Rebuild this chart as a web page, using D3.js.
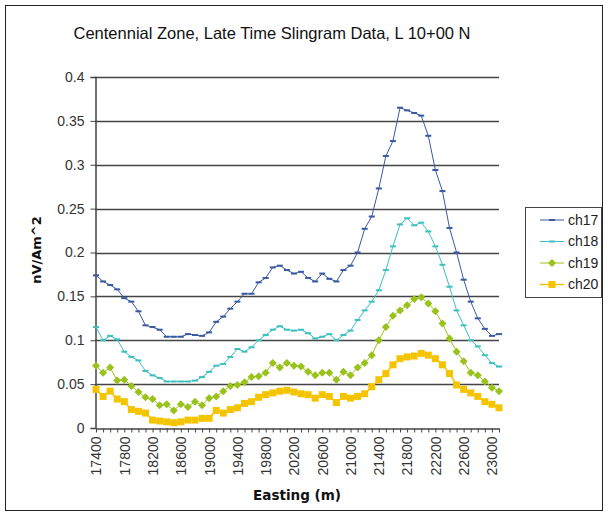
<!DOCTYPE html>
<html>
<head>
<meta charset="utf-8">
<script src="https://cdn.jsdelivr.net/npm/d3@7"></script>
<style>
html,body{margin:0;padding:0;background:#fff;}
svg{display:block;}
text{font-family:"Liberation Sans",Arial,sans-serif;}
</style>
</head>
<body>
<svg id="chart" width="608" height="516"></svg>
<script>
const categories = d3.range(17400, 23101, 100);
const ch17 = [0.174,0.167,0.163,0.158,0.148,0.144,0.133,0.117,0.115,0.112,0.104,0.104,0.104,0.107,0.106,0.105,0.109,0.121,0.127,0.136,0.144,0.153,0.153,0.166,0.171,0.183,0.185,0.180,0.176,0.178,0.171,0.167,0.176,0.170,0.167,0.180,0.185,0.200,0.227,0.241,0.273,0.310,0.327,0.365,0.362,0.359,0.356,0.333,0.294,0.270,0.228,0.200,0.169,0.144,0.125,0.113,0.105,0.107];
const ch18 = [0.115,0.100,0.105,0.101,0.087,0.081,0.077,0.065,0.060,0.057,0.053,0.053,0.053,0.053,0.054,0.058,0.064,0.071,0.073,0.081,0.090,0.087,0.092,0.100,0.106,0.112,0.116,0.112,0.111,0.112,0.108,0.102,0.104,0.107,0.100,0.106,0.111,0.123,0.134,0.144,0.157,0.180,0.207,0.232,0.239,0.231,0.234,0.224,0.207,0.186,0.161,0.134,0.117,0.100,0.093,0.083,0.074,0.070];
const ch19 = [0.071,0.063,0.069,0.054,0.055,0.048,0.041,0.035,0.033,0.026,0.027,0.020,0.027,0.024,0.030,0.026,0.034,0.036,0.042,0.048,0.049,0.052,0.058,0.059,0.063,0.074,0.069,0.074,0.071,0.070,0.064,0.060,0.063,0.063,0.055,0.064,0.060,0.069,0.074,0.083,0.100,0.115,0.128,0.134,0.140,0.147,0.149,0.142,0.133,0.119,0.102,0.087,0.076,0.063,0.060,0.053,0.046,0.042];
const ch20 = [0.044,0.036,0.042,0.033,0.030,0.021,0.019,0.017,0.009,0.008,0.007,0.006,0.007,0.009,0.009,0.011,0.011,0.020,0.017,0.021,0.023,0.028,0.030,0.035,0.038,0.040,0.042,0.043,0.041,0.039,0.038,0.034,0.038,0.036,0.029,0.036,0.034,0.036,0.039,0.047,0.055,0.062,0.072,0.079,0.081,0.082,0.085,0.083,0.079,0.072,0.062,0.049,0.044,0.040,0.036,0.030,0.027,0.023];
const seriesNames = ["ch17","ch18","ch19","ch20"];
const yTicks = [0,0.05,0.1,0.15,0.2,0.25,0.3,0.35,0.4];
const yTickLabels = ["0","0.05","0.1","0.15","0.2","0.25","0.3","0.35","0.4"];
const xLabelStep = 4;
const title = "Centennial Zone, Late Time Slingram Data, L 10+00 N";
const yTitle = "nV/Am^2";
const xTitle = "Easting (m)";

const series = [
  {name:"ch17", values:ch17, color:"#3a5aa0", marker:"dash", lw:1},
  {name:"ch18", values:ch18, color:"#3cc0c0", marker:"dash", lw:1},
  {name:"ch19", values:ch19, color:"#99c21a", marker:"diamond", lw:1},
  {name:"ch20", values:ch20, color:"#f5c400", marker:"square", lw:1.5}
];

const svg = d3.select("#chart");
svg.append("rect").attr("x",5.5).attr("y",5.5).attr("width",597).attr("height",505)
  .attr("fill","#fff").attr("stroke","#222").attr("stroke-width",1);

const x = d3.scalePoint().domain(categories).range([96, 499]);
const y = d3.scaleLinear().domain([0,0.4]).range([428, 77]);

// gridlines
svg.append("g").selectAll("line").data(yTicks.filter(d=>d>0)).join("line")
  .attr("x1",95).attr("x2",499).attr("y1",d=>Math.round(y(d))+0.5).attr("y2",d=>Math.round(y(d))+0.5)
  .attr("stroke","#444").attr("stroke-width",1.5);

// y axis
const yAxis = svg.append("g").attr("transform","translate(95.5,0)")
  .call(d3.axisLeft(y).tickValues(yTicks).tickSize(5).tickPadding(6)
    .tickFormat((d,i)=>yTickLabels[i]));
yAxis.select(".domain").attr("stroke","#444").attr("stroke-width",1.5);
yAxis.selectAll(".tick line").attr("stroke","#444");
yAxis.selectAll(".tick text").attr("fill","#333").style("font-size","14px")
  .style("font-family","'Liberation Sans',Arial,sans-serif");

// x axis
const xAxis = svg.append("g").attr("transform","translate(0,428.5)")
  .call(d3.axisBottom(x).tickSize(4).tickSizeOuter(0)
    .tickFormat((d,i)=> i % xLabelStep === 0 ? String(d) : ""));
xAxis.select(".domain").attr("stroke","#444").attr("stroke-width",1.5);
xAxis.selectAll(".tick line").attr("stroke","#444");
xAxis.selectAll(".tick text")
  .attr("transform","rotate(-90)")
  .attr("x",-8).attr("y",0).attr("dy","0.35em")
  .attr("text-anchor","end")
  .attr("fill","#333").style("font-size","14px")
  .style("font-family","'Liberation Sans',Arial,sans-serif");

// lines + markers
const line = d3.line().x((d,i)=>x(categories[i])).y(d=>y(d));
function drawMarker(g, type, color, cx, cy){
  if(type==="dash"){
    g.append("rect").attr("x",cx-3).attr("y",cy-1).attr("width",6).attr("height",2).attr("fill",color);
  } else if(type==="diamond"){
    g.append("path").attr("d",`M${cx},${cy-4}L${cx+4},${cy}L${cx},${cy+4}L${cx-4},${cy}Z`).attr("fill",color);
  } else if(type==="square"){
    g.append("rect").attr("x",cx-3.5).attr("y",cy-3.5).attr("width",7).attr("height",7).attr("fill",color);
  }
}
series.slice().reverse().forEach(s=>{
  const g = svg.append("g");
  g.append("path").datum(s.values).attr("d",line).attr("fill","none")
    .attr("stroke",s.color).attr("stroke-width",s.lw);
  s.values.forEach((v,i)=> drawMarker(g, s.marker, s.color, x(categories[i]), y(v)));
});

// title
svg.append("text").attr("x",272).attr("y",39).attr("text-anchor","middle")
  .style("font-size","16.5px").attr("fill","#111").text(title);

// y title
svg.append("text").attr("transform","translate(41,250) rotate(-90)").attr("text-anchor","middle")
  .style("font-family","'DejaVu Sans',Verdana,sans-serif")
  .style("font-size","13px").style("font-weight","bold").attr("fill","#111").text(yTitle);

// x title
svg.append("text").attr("x",297).attr("y",500).attr("text-anchor","middle")
  .style("font-family","'DejaVu Sans',Verdana,sans-serif")
  .style("font-size","13.5px").style("font-weight","bold").attr("fill","#111").text(xTitle);

// legend
const lg = svg.append("g");
lg.append("rect").attr("x",525.5).attr("y",207.5).attr("width",76).attr("height",90)
  .attr("fill","#fff").attr("stroke","#444").attr("stroke-width",1);
series.forEach((s,i)=>{
  const ly = 220 + i*21.5;
  lg.append("line").attr("x1",540).attr("x2",564).attr("y1",ly).attr("y2",ly)
    .attr("stroke",s.color).attr("stroke-width",s.lw);
  drawMarker(lg, s.marker, s.color, 552, ly);
  lg.append("text").attr("x",568).attr("y",ly).attr("dy","0.35em")
    .style("font-size","14px").attr("fill","#222").text(s.name);
});
</script>
</body>
</html>
